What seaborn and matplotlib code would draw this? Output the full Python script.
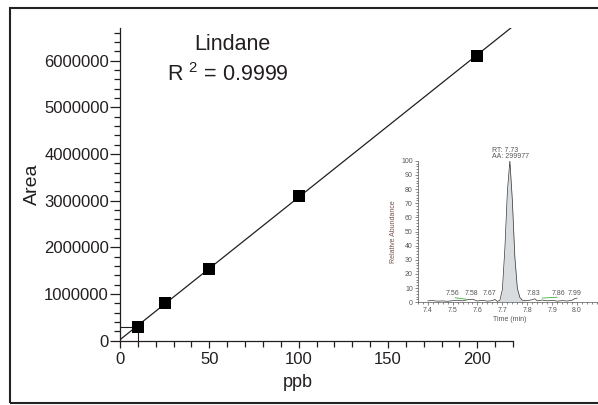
import numpy as np
import matplotlib
matplotlib.use("Agg")
import matplotlib.pyplot as plt
from matplotlib.patches import Rectangle
from matplotlib.ticker import MultipleLocator, FixedLocator
import seaborn as sns

# calibration points
ppb = [10, 25, 50, 100, 200]
area = [300000, 800000, 1540000, 3110000, 6110000]

# chromatogram trace (inset)
rt = [7.40, 7.42, 7.44, 7.46, 7.48, 7.50, 7.52, 7.54, 7.56, 7.58, 7.60,
      7.62, 7.64, 7.66, 7.67, 7.68, 7.69, 7.70, 7.71, 7.72, 7.73, 7.74,
      7.75, 7.76, 7.77, 7.78, 7.80, 7.82, 7.83, 7.84, 7.86, 7.88, 7.90,
      7.92, 7.94, 7.96, 7.98, 7.99, 8.00]
abundance = [1.0, 1.2, 0.8, 1.0, 0.7, 1.1, 1.5, 1.0, 1.8, 2.2, 0.9,
             1.4, 0.8, 1.2, 2.0, 0.6, 1.5, 9.0, 38.0, 78.0, 100.0, 72.0,
             32.0, 10.0, 3.5, 1.5, 1.2, 1.8, 2.5, 1.0, 1.6, 1.0, 1.4,
             0.8, 1.2, 0.9, 1.5, 2.5, 3.0]
peak_labels = ["7.56", "7.58", "7.67", "7.83", "7.86", "7.99"]
peak_label_x = [7.50, 7.574, 7.65, 7.826, 7.927, 7.99]
time_ticks = [7.4, 7.5, 7.6, 7.7, 7.8, 7.9, 8.0]

sns.set_theme(style="ticks")
plt.rcParams["font.family"] = ["Liberation Sans", "DejaVu Sans"]
plt.rcParams["mathtext.default"] = "regular"
ink = "#231f20"

fig = plt.figure(figsize=(5.98, 4.05), dpi=100)
ax = fig.add_axes([0.2007, 0.1588, 0.8579 - 0.2007, 0.9309 - 0.1588])
ax.set_xlim(0, 220)
ax.set_ylim(0, 6.7e6)

sns.regplot(
    x=ppb, y=area, ax=ax, ci=None, truncate=False, marker="s",
    scatter_kws=dict(s=80, color="black", alpha=1, linewidths=0, zorder=3),
    line_kws=dict(color=ink, lw=0.9),
)
# drop lines to the lowest standard
ax.plot([0, ppb[0]], [area[0], area[0]], color=ink, lw=0.8)
ax.plot([ppb[0], ppb[0]], [0, area[0]], color=ink, lw=0.8)
ax.set_xlim(0, 220)
ax.set_ylim(0, 6.7e6)

ax.xaxis.set_major_locator(MultipleLocator(50))
ax.xaxis.set_minor_locator(MultipleLocator(10))
ax.yaxis.set_major_locator(MultipleLocator(1000000))
ax.yaxis.set_minor_locator(MultipleLocator(200000))
ax.yaxis.set_major_formatter(matplotlib.ticker.FuncFormatter(lambda v, p: f"{int(v)}"))
ax.tick_params(axis="y", which="major", length=7, width=0.9, color=ink,
               labelsize=12, labelcolor=ink, pad=1)
ax.tick_params(axis="y", which="minor", length=4.5, width=0.9, color=ink)
ax.tick_params(axis="x", which="major", length=5, width=0.9, color=ink,
               labelsize=12, labelcolor=ink, pad=3)
ax.tick_params(axis="x", which="minor", length=4, width=0.9, color=ink)
for s in ["top", "right"]:
    ax.spines[s].set_visible(False)
for s in ["left", "bottom"]:
    ax.spines[s].set_color(ink)
    ax.spines[s].set_linewidth(0.9)
ax.set_xlabel("ppb", fontsize=13, color=ink)
ax.set_ylabel("Area", fontsize=14, color=ink)
ax.xaxis.set_label_coords((298 - 120) / (513 - 120), -0.105)
ax.yaxis.set_label_coords(-0.2, 0.5)

fig.text(232 / 598, 1 - 45 / 405, "Lindane", ha="center", va="center",
         fontsize=15.5, color=ink)
fig.text(228 / 598, 1 - 75 / 405, "R $^{2}$ = 0.9999", ha="center", va="center",
         fontsize=15.5, color=ink)

# inset chromatogram
grey = "#555555"
ins = fig.add_axes([417.7 / 598, 1 - 302.3 / 405, (607 - 417.7) / 598,
                    (302.3 - 160.7) / 405])
ins.set_xlim(7.36, 8.12)
ins.set_ylim(0, 100)
peak_mask = [(t >= 7.685) and (t <= 7.78) for t in rt]
ins.fill_between(rt, 0.5, abundance, where=peak_mask, color="#d8dcdf",
                 interpolate=True, lw=0)
sns.lineplot(x=rt, y=abundance, ax=ins, color="#333333", lw=0.5)
ins.plot([7.685, 7.78], [0.5, 0.5], color="#3050b0", lw=0.7)
ins.plot([7.51, 7.555], [3.2, 2.2], color="#40b040", lw=0.6)
ins.plot([7.86, 7.92], [3.0, 3.6], color="#40b040", lw=0.6)
for lab, x in zip(peak_labels, peak_label_x):
    ins.text(x, 3.5, lab, ha="center", va="bottom", fontsize=5, color=grey)
ins.text(7.657, 105, "RT: 7.73", ha="left", va="bottom", fontsize=5, color=grey)
ins.text(7.657, 100.5, "AA: 299977", ha="left", va="bottom", fontsize=5, color=grey)

ins.xaxis.set_major_locator(FixedLocator(time_ticks + [8.1]))
ins.xaxis.set_minor_locator(MultipleLocator(0.02))
ins.yaxis.set_major_locator(MultipleLocator(10))
ins.yaxis.set_minor_locator(MultipleLocator(2))
ins.xaxis.set_major_formatter(matplotlib.ticker.FuncFormatter(
    lambda v, p: f"{v:.1f}" if v < 8.05 else ""))
ins.tick_params(which="major", length=2.5, width=0.5, color=grey,
                labelsize=5, labelcolor=grey, pad=1)
ins.tick_params(which="minor", length=1.5, width=0.5, color=grey)
for s in ["top", "right"]:
    ins.spines[s].set_visible(False)
for s in ["left", "bottom"]:
    ins.spines[s].set_color(grey)
    ins.spines[s].set_linewidth(0.5)
ins.set_facecolor("none")
ins.set_xlabel("Time (min)", fontsize=5, color=grey, labelpad=1)
ins.set_ylabel("Relative Abundance", fontsize=5, color="#7a5050", labelpad=3)
ins.xaxis.set_label_coords((510 - 417.7) / (607 - 417.7), -0.1)

# outer frame
fig.patches.append(Rectangle((10 / 598, 1 - 403 / 405), 1.0, (403 - 8) / 405,
                             transform=fig.transFigure, fill=False,
                             lw=1.5, edgecolor="#222222"))

fig.savefig("out.png", dpi=100)
